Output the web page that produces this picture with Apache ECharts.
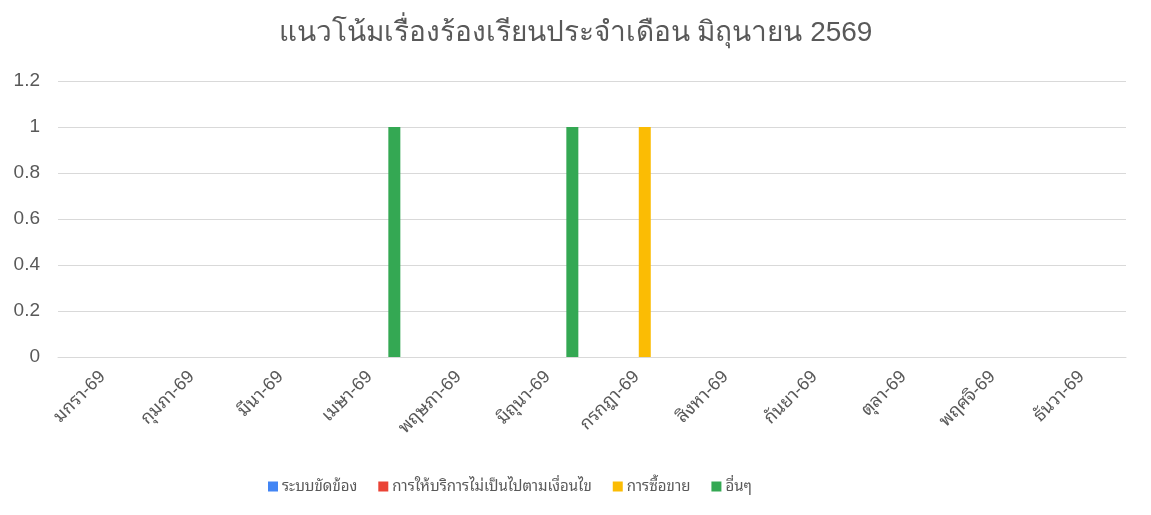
<!DOCTYPE html>
<html><head><meta charset="utf-8">
<script src="https://cdn.jsdelivr.net/npm/echarts@6/dist/echarts.min.js"></script>
<style>html,body{margin:0;padding:0;background:#fff}#c{width:1151px;height:515px}</style>
</head><body><div id="c"></div>
<script>
const titleText = 'แนวโน้มเรื่องร้องเรียนประจำเดือน มิถุนายน 2569';
const categories = ['มกรา-69','กุมภา-69','มีนา-69','เมษา-69','พฤษภา-69','มิถุนา-69','กรกฎา-69','สิงหา-69','กันยา-69','ตุลา-69','พฤศจิ-69','ธันวา-69'];
const seriesNames = ['ระบบขัดข้อง','การให้บริการไม่เป็นไปตามเงื่อนไข','การซื้อขาย','อื่นๆ'];
const sysDown = [0,0,0,0,0,0,0,0,0,0,0,0];
const serviceIssue = [0,0,0,0,0,0,0,0,0,0,0,0];
const trading = [0,0,0,0,0,0,1,0,0,0,0,0];
const others = [0,0,0,1,0,1,0,0,0,0,0,0];
const colors = ['#4285F4','#EA4335','#FBBC04','#34A853'];
const font = 'Arial, "Liberation Sans", sans-serif';
const thaiFont = 'Arial, "Liberation Sans", "Noto Sans Thai Looped", sans-serif';
const chart = echarts.init(document.getElementById('c'));
const dataSets = [sysDown, serviceIssue, trading, others];
chart.setOption({
  animation: false,
  textStyle: {fontFamily: font},
  title: {text: titleText, left: 'center', top: 14,
    textStyle: {fontFamily: font, fontSize: 28, fontWeight: 'normal', color: '#595959'}},
  legend: {data: seriesNames, left: 263, top: 474, itemWidth: 10, itemHeight: 10, itemGap: 21,
    icon: 'rect', textStyle: {fontFamily: thaiFont, fontSize: 15, color: '#595959', padding: [0,0,0,-1]}},
  grid: {left: 58, right: 25, top: 81, bottom: 158, containLabel: false},
  xAxis: {type: 'category', data: categories,
    axisLine: {show: true, lineStyle: {color: '#d9d9d9', width: 1}},
    axisTick: {show: false},
    axisLabel: {rotate: 45, fontSize: 18, color: '#595959', margin: 17, fontFamily: thaiFont}},
  yAxis: {type: 'value', min: 0, max: 1.2, interval: 0.2,
    axisLine: {show: false}, axisTick: {show: false},
    splitLine: {lineStyle: {color: '#d9d9d9', width: 1}},
    axisLabel: {fontSize: 19, color: '#595959', margin: 18, fontFamily: font,
      formatter: v => String(Math.round(v*10)/10)}},
  series: dataSets.map((d, i) => ({
    name: seriesNames[i], type: 'bar', data: d, barWidth: 12, barGap: '38%',
    itemStyle: {color: colors[i]}
  }))
});
</script></body></html>
